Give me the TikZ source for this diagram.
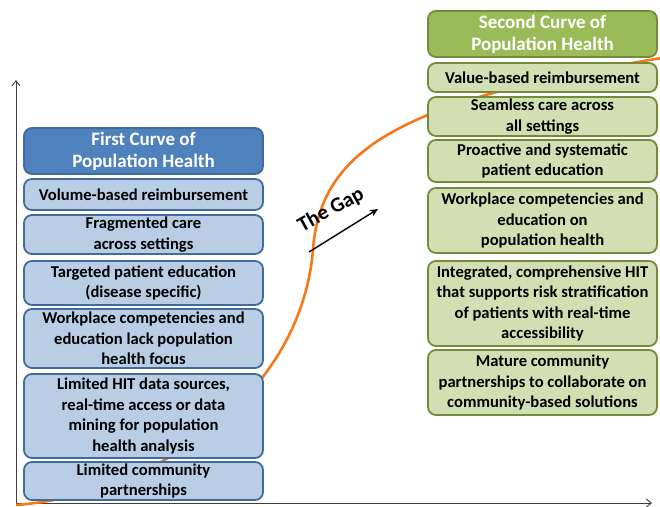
\documentclass[tikz,border=0pt]{standalone}
\usepackage{fontspec}
\setmainfont{Carlito}
\usetikzlibrary{arrows.meta}
\definecolor{bluehead}{RGB}{79,129,189}
\definecolor{blueline}{RGB}{65,106,157}
\definecolor{bluebody}{RGB}{185,205,229}
\definecolor{greenhead}{RGB}{155,187,89}
\definecolor{greenline}{RGB}{113,140,58}
\definecolor{greenbody}{RGB}{210,223,178}
\definecolor{curveorange}{RGB}{247,120,25}
\definecolor{axisgray}{RGB}{64,64,64}

\begin{document}
\begin{tikzpicture}[x=1pt,y=-1pt,
    leftbox/.style={draw=blueline,fill=bluebody,line width=1.8pt,rounded corners=8pt,
      align=center,inner sep=0pt,minimum width=239pt,
      font=\bfseries\fontsize{16.6}{20.5}\selectfont},
    lefthead/.style={leftbox,fill=bluehead,text=white,
      font=\bfseries\fontsize{19}{22}\selectfont},
    rightbox/.style={draw=greenline,fill=greenbody,line width=1.8pt,rounded corners=8pt,
      align=center,inner sep=0pt,minimum width=229pt,
      font=\bfseries\fontsize{16.6}{20.5}\selectfont},
    righthead/.style={rightbox,fill=greenhead,text=white,
      font=\bfseries\fontsize{19}{22}\selectfont}]
    \useasboundingbox (0,0) rectangle (660,506);
    % axes
    \draw[axisgray,line width=0.9pt,-{Straight Barb[length=5pt,width=8pt]}] (16,505) -- (16,80);
    \draw[axisgray,line width=0.9pt,-{Straight Barb[length=5pt,width=8pt]}] (16,503) -- (652,503);
    % the s-curve, behind the boxes
    \draw[curveorange,line width=2.6pt] (16,505) .. controls (150,495) and (300,400) .. (313,250)
        .. controls (320,150) and (400,100) .. (662,58);
    % first curve
    \node[lefthead,minimum height=46pt] (first) at (143.5,151) {First Curve of\\Population Health};
    \foreach \nm/\yy/\hh/\txt in {
      lvol/194.5/31/{Volume-based reimbursement},
      lfrag/234.5/39/{Fragmented care\\across settings},
      ltarget/283/44/{Targeted patient education\\(disease specific)},
      lwork/338.5/59/{Workplace competencies and\\education lack population\\health focus},
      lhit/416/84/{Limited HIT data sources,\\real-time access or data\\mining for population\\health analysis},
      lcomm/481/38/{Limited community\\partnerships}}{
    \node[leftbox,minimum height=\hh pt] (\nm) at (143.5,\yy) {\txt};
    }
    % second curve
    \node[righthead,minimum height=46pt] (second) at (542.5,34) {Second Curve of\\Population Health};
    \foreach \nm/\yy/\hh/\txt in {
      rvalue/77.5/29/{Value-based reimbursement},
      rseam/116.5/39/{Seamless care across\\all settings},
      rpro/161/42/{Proactive and systematic\\patient education},
      rwork/220.5/65/{Workplace competencies and\\education on\\population health},
      rhit/303.5/85/{Integrated, comprehensive HIT\\that supports risk stratification\\of patients with real-time\\accessibility},
      rmature/382.5/65/{Mature community\\partnerships to collaborate on\\community-based solutions}}{
    \node[rightbox,minimum height=\hh pt] (\nm) at (542.5,\yy) {\txt};
    }
    % the gap
    \node[rotate=29,inner sep=0pt,font=\bfseries\fontsize{21}{24}\selectfont] (gap) at (331,210) {The Gap};
    \coordinate (gapfrom) at (309,252);
    \coordinate (gapto) at (378,209);
    \draw[line width=1.4pt,-{Stealth[length=8pt,width=7pt]}] (gapfrom) -- (gapto);
\end{tikzpicture}
\end{document}
